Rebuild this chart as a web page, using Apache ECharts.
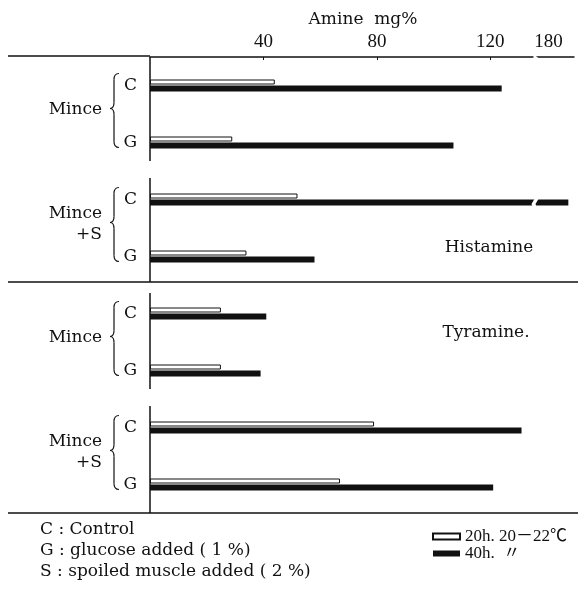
<!DOCTYPE html>
<html>
<head>
<meta charset="utf-8">
<script src="https://cdn.jsdelivr.net/npm/echarts@6/dist/echarts.min.js"></script>
<style>
  html, body { margin: 0; padding: 0; background: #fff; }
  #chart { width: 584px; height: 598px; }
</style>
</head>
<body>
<div id="chart"></div>
<script>
// rows top to bottom: histamine panel, then tyramine panel
var groups = ['Mince', 'Mince\n+S', 'Mince', 'Mince\n+S'];
var treatments = ['C', 'G', 'C', 'G', 'C', 'G', 'C', 'G'];
var categories = ['His Mince C', 'His Mince G', 'His Mince+S C', 'His Mince+S G',
                  'Tyr Mince C', 'Tyr Mince G', 'Tyr Mince+S C', 'Tyr Mince+S G'];
var panels = ['Histamine', 'Tyramine.'];

// Amine mg%
var h20 = [44, 29, 52, 34, 25, 25, 79, 67];
var h40 = [124, 107, 187, 58, 41, 39, 131, 121];

var tickValues = [40, 80, 120];
var labelValues = [40, 80, 120, 180];
var seriesNames = ['20h. 20\uFF0D22\u2103', '40h.  \u3003'];
var notes = ['C : Control', 'G : glucose added ( 1 %)', 'S : spoiled muscle added ( 2 %)'];

var ink = '#111';
var serif = 'DejaVu Serif';
var narrow = 'Liberation Serif, Noto Sans CJK JP';

var myChart = echarts.init(document.getElementById('chart'));

var option = {
    backgroundColor: '#fff',
    animation: false,
    grid: { left: 150, top: 57, width: 424, height: 456, containLabel: false },
    legend: {
        data: seriesNames,
        orient: 'vertical',
        left: 432,
        top: 528,
        padding: 0,
        itemGap: 0,
        itemWidth: 27,
        itemHeight: 6,
        icon: 'rect',
        textStyle: { fontFamily: narrow, fontSize: 17, lineHeight: 16, color: ink }
    },
    xAxis: {
        type: 'value',
        position: 'top',
        min: 0,
        max: 189,
        breaks: [{ start: 135, end: 176, gap: 1.5 }],
        breakArea: {
            show: true,
            itemStyle: { color: '#fff', borderColor: '#fff', borderWidth: 0, opacity: 1 },
            zigzagAmplitude: 2
        },
        axisLine: { show: true, lineStyle: { color: ink, width: 1.5 } },
        axisTick: { show: true, inside: true, length: 3, customValues: tickValues, lineStyle: { color: ink } },
        axisLabel: { customValues: labelValues, fontFamily: narrow, fontSize: 19, color: ink, margin: 5 },
        splitLine: { show: false }
    },
    yAxis: {
        type: 'category',
        inverse: true,
        data: categories,
        axisLine: { show: false },
        axisTick: { show: false },
        axisLabel: {
            margin: 13,
            fontFamily: serif,
            fontSize: 17,
            color: ink,
            padding: [0, 0, 7, 0],
            formatter: function (v, i) { return treatments[i]; }
        }
    },
    series: [{
        name: seriesNames[0],
        type: 'bar',
        data: h20,
        barWidth: 5,
        barGap: '20%',
        itemStyle: { color: '#fff', borderColor: ink, borderWidth: 1 }
    }, {
        name: seriesNames[1],
        type: 'bar',
        data: h40,
        barWidth: 6,
        itemStyle: { color: ink }
    }]
};

myChart.setOption(option);

// annotations placed from the category axis
function yOf(i) {
    return myChart.convertToPixel({ yAxisIndex: 0 }, i);
}

var band = yOf(1) - yOf(0);
var x0 = myChart.convertToPixel({ xAxisIndex: 0 }, 0);
var top0 = yOf(0) - band / 2;
var bottom = yOf(7) + band / 2;
var graphics = [];

function line(x1, y1, x2, y2, w) {
    graphics.push({
        type: 'line', z: 20, zlevel: 1,
        shape: { x1: x1, y1: y1, x2: x2, y2: y2 },
        style: { stroke: ink, lineWidth: w || 1.5 }
    });
}

function curve(x1, y1, cx, cy, x2, y2) {
    graphics.push({
        type: 'bezierCurve', z: 20,
        shape: { x1: x1, y1: y1, cpx1: cx, cpy1: cy, x2: x2, y2: y2 },
        style: { stroke: ink, lineWidth: 1.2, fill: null }
    });
}

function text(str, x, y, align, size, lh) {
    graphics.push({
        type: 'text', z: 20, x: x, y: y,
        style: {
            text: str, fill: ink, font: (size || 17) + 'px "' + serif + '"',
            align: align || 'center', verticalAlign: 'middle', lineHeight: lh || 20
        }
    });
}

// frame lines
line(8, top0 - 1, x0, top0 - 1);
var sep = (yOf(3) + yOf(4)) / 2 - 3;
line(8, sep, 578, sep);
line(8, bottom, 578, bottom);

// vertical axis pieces, one for each group
var g;
for (g = 0; g < groups.length; g++) {
    var c1 = yOf(g * 2), c2 = yOf(g * 2 + 1);
    var yTop = g === 0 ? top0 : (g === 2 ? sep + 11 : c1 - band / 2 + 7);
    var yBot = g === 1 ? sep : (g === 3 ? bottom : c2 + band / 2 - 10);
    line(x0, yTop, x0, yBot);

    // brace
    var bt = c1 - 12, bb = c2 + 5, bm = (bt + bb) / 2 - 2;
    curve(119, bt, 114, bt, 114, bt + 6);
    graphics.push({
        type: 'line', z: 20,
        shape: { x1: 114, y1: bt + 6, x2: 114, y2: bm - 6 },
        style: { stroke: ink, lineWidth: 1.2 }
    });
    curve(114, bm - 6, 114, bm, 110, bm);
    curve(110, bm, 114, bm, 114, bm + 6);
    graphics.push({
        type: 'line', z: 20,
        shape: { x1: 114, y1: bm + 6, x2: 114, y2: bb - 6 },
        style: { stroke: ink, lineWidth: 1.2 }
    });
    curve(114, bb - 6, 114, bb, 119, bb);

    // group label
    text(groups[g], 102, (c1 + c2) / 2 - 4, 'right', 17, 21);
}

// panel names and axis title
text('Amine  mg%', 363, 20, 'center', 17);
text(panels[0], 489, 248, 'center', 17);
text(panels[1], 486, 333, 'center', 17);

// key for the letters
for (var k = 0; k < notes.length; k++) {
    text(notes[k], 40, 530 + k * 21, 'left', 17);
}

myChart.setOption({ graphic: graphics });
</script>
</body>
</html>
